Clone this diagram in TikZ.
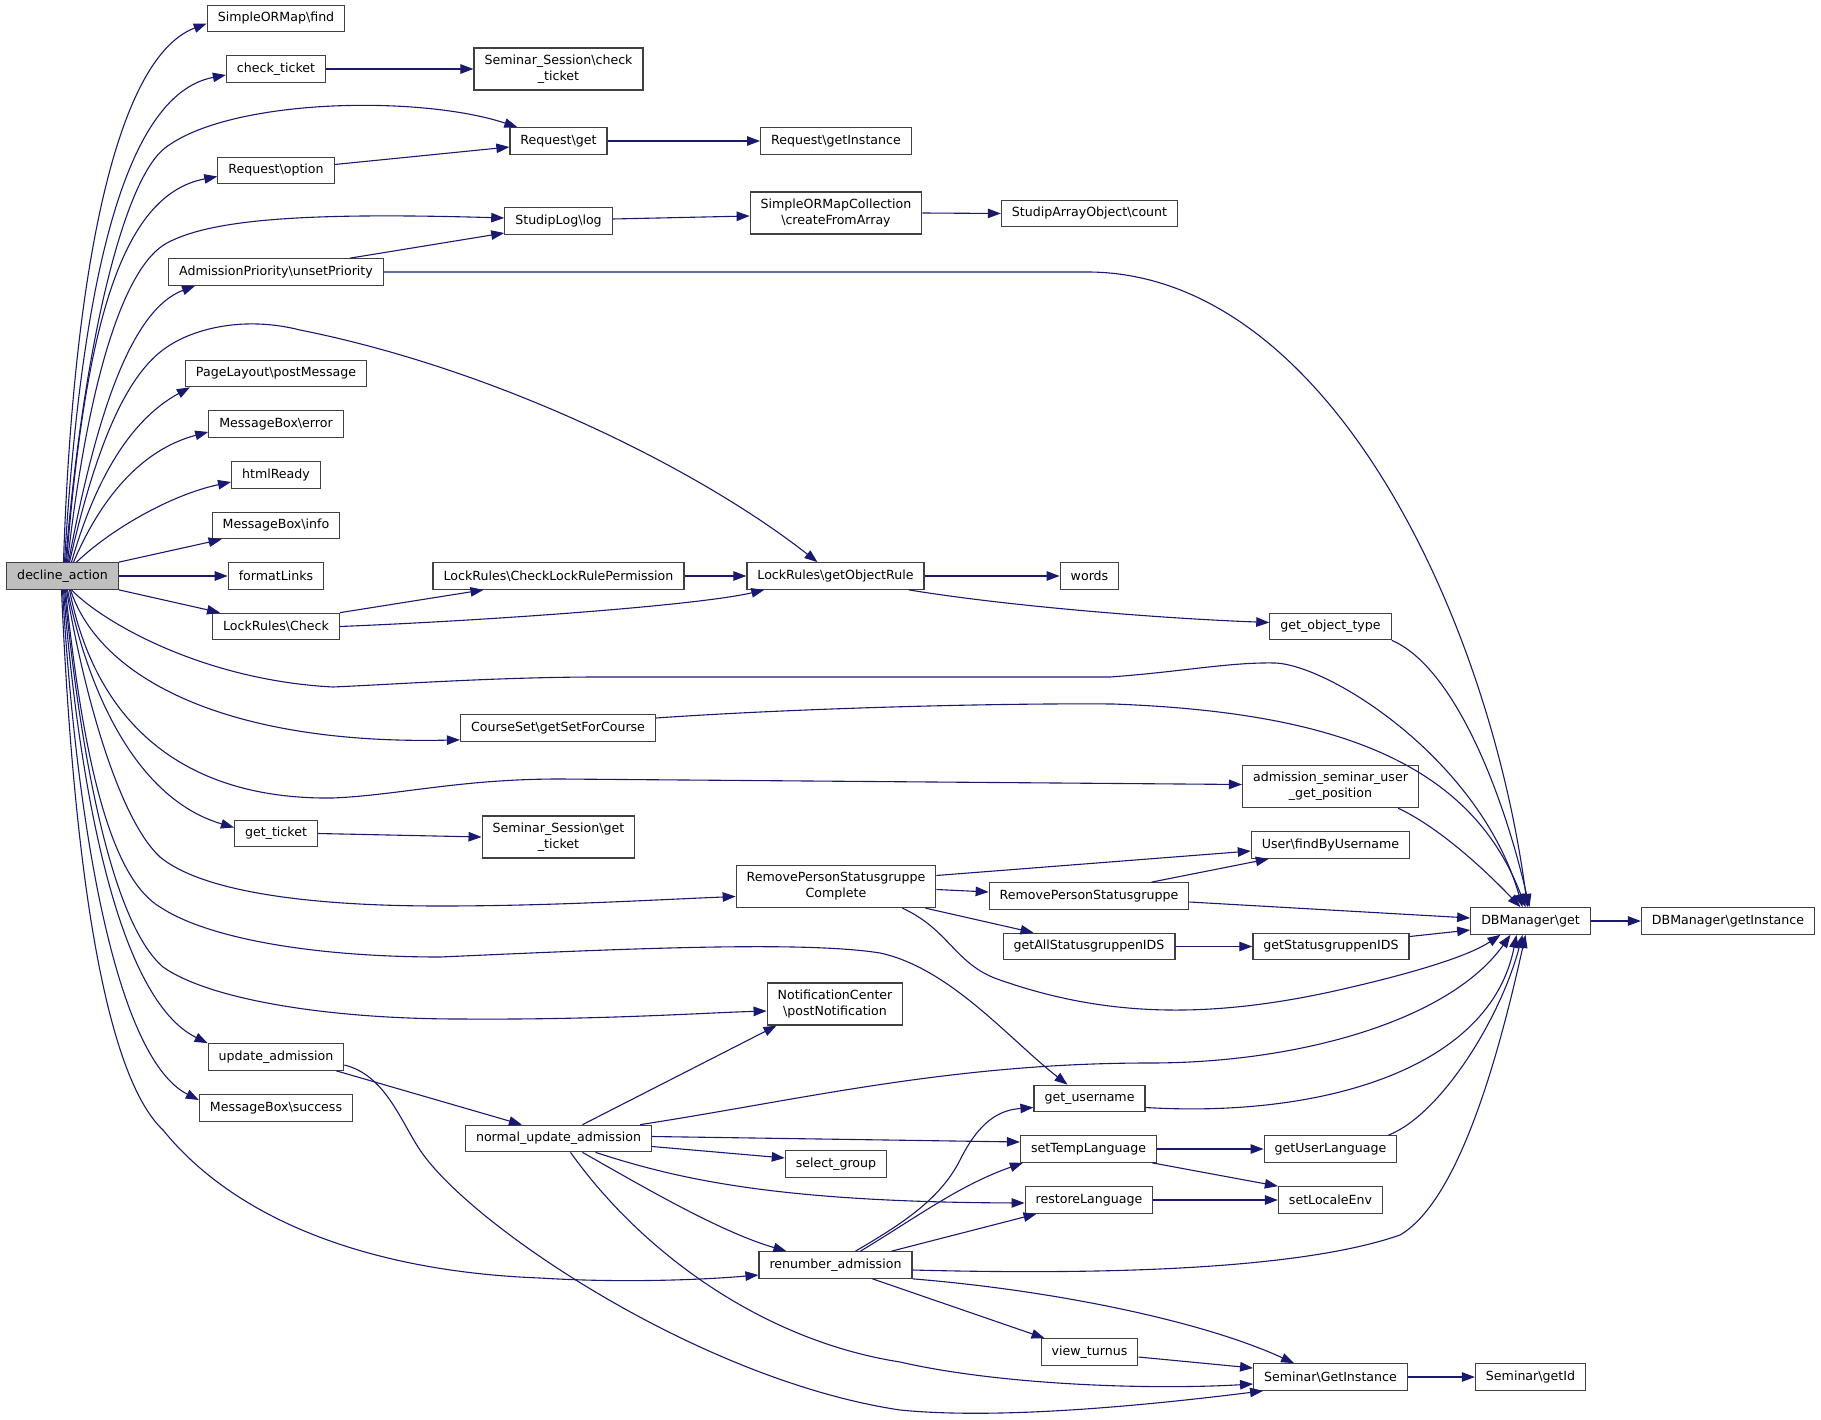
\documentclass[tikz,border=0pt]{standalone}
\usepackage{fontspec}
\newfontfamily\dxfont{DejaVu Sans}
\usetikzlibrary{arrows.meta}
\definecolor{edgeblue}{RGB}{25,25,112}
\definecolor{boxline}{RGB}{64,64,64}
\definecolor{rootfill}{RGB}{191,191,191}
\tikzset{
  fn/.style={draw=boxline, line width=1.2pt, fill=white, rectangle, minimum height=26.5pt,
    inner xsep=10.5pt, inner ysep=2pt, align=center, font=\dxfont\fontsize{12.6}{16}\selectfont},
  fntwo/.style={fn, minimum height=42pt},
  root/.style={fn, fill=rootfill},
  call/.style={edgeblue, line width=1.1pt, -{Triangle[length=13pt,width=9.5pt]}},
}

\begin{document}
\begin{tikzpicture}[x=1pt,y=-1pt]
\newcommand{\nsep}{\textbackslash}

\fill[white] (0,0) rectangle (1821,1420);
\useasboundingbox (0,0) rectangle (1821,1420);

\node[root] (da) at (62.5,576) {decline\_action};

\node[fn] (find) at (276,18.5) {SimpleORMap\nsep find};
\node[fn] (chkt) at (276,69) {check\_ticket};
\node[fn] (ropt) at (276,170.5) {Request\nsep option};
\node[fn] (unset) at (276,272) {AdmissionPriority\nsep unsetPriority};
\node[fn] (pmsg) at (276,373.5) {PageLayout\nsep postMessage};
\node[fn] (merr) at (276,424) {MessageBox\nsep error};
\node[fn] (html) at (276,475) {htmlReady};
\node[fn] (minfo) at (276,525.5) {MessageBox\nsep info};
\node[fn] (flinks) at (276,576) {formatLinks};
\node[fn] (lrchk) at (276,626.5) {LockRules\nsep Check};
\node[fn] (gtick) at (276,833.5) {get\_ticket};
\node[fn] (upd) at (276,1057) {update\_admission};
\node[fn] (succ) at (276,1108) {MessageBox\nsep success};

\node[fntwo] (sschk) at (558.5,69) {Seminar\_Session\nsep check\\\_ticket};
\node[fn] (rget) at (558.5,141) {Request\nsep get};
\node[fn] (slog) at (558.5,221) {StudipLog\nsep log};
\node[fn] (lrperm) at (558.5,576) {LockRules\nsep CheckLockRulePermission};
\node[fn] (cssfc) at (558,728) {CourseSet\nsep getSetForCourse};
\node[fntwo] (ssgt) at (558.5,837) {Seminar\_Session\nsep get\\\_ticket};
\node[fn] (nua) at (558.5,1138.5) {normal\_update\_admission};

\node[fn] (rinst) at (836,141) {Request\nsep getInstance};
\node[fntwo] (cfa) at (836,213) {SimpleORMapCollection\\\nsep createFromArray};
\node[fn] (gor) at (835.5,576) {LockRules\nsep getObjectRule};
\node[fntwo] (rpsc) at (836,886.5) {RemovePersonStatusgruppe\\Complete};
\node[fntwo] (nc) at (835,1004) {NotificationCenter\\\nsep postNotification};
\node[fn] (sgrp) at (836,1164) {select\_group};
\node[fn] (renum) at (835.5,1265) {renumber\_admission};

\node[fn] (cnt) at (1089.5,213.5) {StudipArrayObject\nsep count};
\node[fn] (words) at (1089.5,576) {words};
\node[fn] (rps) at (1089,896) {RemovePersonStatusgruppe};
\node[fn] (gasi) at (1089,946.5) {getAllStatusgruppenIDS};
\node[fn] (gun) at (1089.5,1098.5) {get\_username};
\node[fn] (stl) at (1088.5,1149) {setTempLanguage};
\node[fn] (rlang) at (1089,1200) {restoreLanguage};
\node[fn] (vturn) at (1089.5,1352) {view\_turnus};

\node[fn] (got) at (1330.5,626.5) {get\_object\_type};
\node[fntwo] (asugp) at (1330.5,786.5) {admission\_seminar\_user\\\_get\_position};
\node[fn] (ufu) at (1330.5,845) {User\nsep findByUsername};
\node[fn] (gsi) at (1331,946.5) {getStatusgruppenIDS};
\node[fn] (gul) at (1330.5,1149) {getUserLanguage};
\node[fn] (sle) at (1330.5,1200) {setLocaleEnv};
\node[fn] (sgi) at (1330.5,1377) {Seminar\nsep GetInstance};

\node[fn] (dbget) at (1530.5,921) {DBManager\nsep get};
\node[fn] (dbinst) at (1728,921) {DBManager\nsep getInstance};
\node[fn] (sgid) at (1530.5,1377) {Seminar\nsep getId};

\draw[call] ([xshift=1pt]da.north) .. controls (72,300) and (110,60) .. ([yshift=-5pt]find.west);
\draw[call] ([xshift=2pt]da.north) .. controls (80,300) and (120,95) .. ([yshift=-6pt]chkt.west);
\draw[call] ([xshift=3pt]da.north) .. controls (85,330) and (126,178) .. (165,148) .. controls (230,98) and (420,95) .. ([xshift=8pt]rget.north west);
\draw[call] ([xshift=4pt]da.north) .. controls (85,330) and (120,195) .. ([yshift=-6pt]ropt.west);
\draw[call] ([xshift=5pt]da.north) .. controls (88,380) and (124,266) .. (167,243) .. controls (210,220) and (300,212) .. ([yshift=3pt]slog.west);
\draw[call] ([xshift=6pt]da.north) .. controls (95,420) and (130,310) .. ([xshift=27pt]unset.south west);
\draw[call] ([xshift=7pt]da.north) .. controls (95,450) and (125,375) .. (167,347) .. controls (195,328) and (245,316) .. (300,330) .. controls (500,370) and (700,470) .. ([xshift=-18pt]gor.north);
\draw[call] ([xshift=9pt]da.north) .. controls (95,480) and (130,420) .. ([xshift=5pt]pmsg.south west);
\draw[call] ([xshift=11pt]da.north) .. controls (100,500) and (140,450) .. ([yshift=-8pt]merr.west);
\draw[call] ([xshift=14pt]da.north) .. controls (110,530) and (170,495) .. ([yshift=-7pt]html.west);
\draw[call] (da.north east) -- ([xshift=10pt]minfo.south west);
\draw[call] (da.east) -- (flinks.west);
\draw[call] (da.south east) -- ([xshift=8pt]lrchk.north west);

\draw[call] ([xshift=9pt]da.south) .. controls (100,620) and (200,680) .. (333,687) .. controls (400,684) and (500,677) .. (600,677) -- (1110,677) .. controls (1180,672) and (1230,662) .. (1275,663) .. controls (1330,665) and (1480,760) .. ([xshift=-8pt]dbget.north);
\draw[call] ([xshift=8pt]da.south) .. controls (100,680) and (230,745) .. ([yshift=2pt]cssfc.south west);
\draw[call] ([xshift=7pt]da.south) .. controls (95,720) and (180,800) .. (333,798) .. controls (400,795) and (460,779) .. (560,779) -- ([yshift=2pt]asugp.west);
\draw[call] ([xshift=5pt]da.south) .. controls (90,700) and (140,800) .. ([yshift=6pt]gtick.west);
\draw[call] ([xshift=4pt]da.south) .. controls (85,700) and (120,820) .. (160,857) .. controls (200,890) and (300,906) .. (440,906) .. controls (550,906) and (650,900) .. ([yshift=-10pt]rpsc.west);
\draw[call] ([xshift=3pt]da.south) .. controls (85,780) and (115,880) .. (160,907) .. controls (210,940) and (320,957) .. (440,957) .. controls (600,950) and (800,940) .. (880,953) .. controls (950,968) and (1010,1040) .. ([xshift=-22pt]gun.north);
\draw[call] ([xshift=2pt]da.south) .. controls (85,800) and (120,930) .. (163,967) .. controls (210,1000) and (330,1019) .. (460,1019) .. controls (600,1020) and (700,1013) .. ([yshift=-7pt]nc.west);
\draw[call] ([xshift=1pt]da.south) .. controls (80,800) and (120,1000) .. (upd.north west);
\draw[call] (da.south) .. controls (78,850) and (120,1060) .. ([yshift=8pt]succ.west);
\draw[call] ([xshift=-1pt]da.south) .. controls (75,900) and (110,1080) .. (163,1130) .. controls (240,1225) and (380,1272) .. (540,1278) .. controls (620,1283) and (700,1280) .. ([yshift=-10pt]renum.west);

\draw[call] (chkt.east) -- (sschk.west);
\draw[call] ([yshift=6pt]ropt.east) -- ([yshift=-6pt]rget.west);
\draw[call] (rget.east) -- (rinst.west);
\draw[call] ([yshift=2pt]slog.east) -- ([yshift=-3pt]cfa.west);
\draw[call] (cfa.east) -- (cnt.west);
\draw[call] ([xshift=-34pt]unset.north east) -- ([yshift=-12pt]slog.west);
\draw[call] (unset.east) -- (1090,272) .. controls (1330,275) and (1490,620) .. ([xshift=-3pt]dbget.north);
\draw[call] (lrchk.north east) -- ([xshift=51pt]lrperm.south west);
\draw[call] (lrchk.east) .. controls (500,620) and (700,605) .. ([xshift=18pt]gor.south west);
\draw[call] (lrperm.east) -- (gor.west);
\draw[call] (gor.east) -- (words.west);
\draw[call] ([xshift=-16pt]gor.south east) .. controls (1000,605) and (1150,618) .. ([yshift=4pt]got.west);
\draw[call] (got.south east) .. controls (1450,665) and (1500,780) .. ([xshift=-1pt]dbget.north);
\draw[call] ([yshift=10pt]cssfc.east) .. controls (800,708) and (1000,703) .. (1113,704) .. controls (1330,712) and (1470,760) .. ([xshift=-5pt]dbget.north);
\draw[call] ([xshift=-21pt]asugp.south east) .. controls (1440,828) and (1485,870) .. ([xshift=-10pt]dbget.north);
\draw[call] (gtick.east) -- (ssgt.west);
\draw[call] ([yshift=11pt]rpsc.east) -- ([yshift=-6pt]ufu.west);
\draw[call] ([yshift=-3pt]rpsc.east) -- ([yshift=4pt]rps.west);
\draw[call] ([xshift=-11pt]rpsc.south east) -- ([xshift=31pt]gasi.north west);
\draw[call] ([xshift=-34pt]rpsc.south east) .. controls (950,930) and (955,965) .. (1000,980) .. controls (1100,1015) and (1200,1020) .. (1330,992) .. controls (1420,972) and (1470,955) .. ([xshift=-30pt]dbget.south);
\draw[call] ([xshift=-38pt]rps.north east) -- ([xshift=18pt]ufu.south west);
\draw[call] ([yshift=-6pt]rps.east) -- ([yshift=3pt]dbget.west);
\draw[call] (gasi.east) -- (gsi.west);
\draw[call] ([yshift=10pt]gsi.east) -- ([yshift=-9pt]dbget.west);
\draw[call] (dbget.east) -- (dbinst.west);
\draw[call] ([xshift=-8pt]upd.south east) -- ([xshift=57pt]nua.north west);
\draw[call] ([yshift=-8pt]upd.east) .. controls (385,1075) and (400,1120) .. (420,1150) .. controls (470,1225) and (700,1380) .. (900,1410) .. controls (1000,1420) and (1150,1405) .. ([xshift=10pt]sgi.south west);
\draw[call] ([xshift=24pt]nua.north) -- ([xshift=10pt]nc.south west);
\draw[call] ([xshift=-12pt]nua.north east) .. controls (800,1100) and (950,1063) .. (1150,1063) .. controls (1300,1063) and (1450,1020) .. ([xshift=-20pt]dbget.south);
\draw[call] ([yshift=2pt]nua.east) -- ([yshift=7pt]stl.west);
\draw[call] ([yshift=-8pt]nua.east) -- ([yshift=6pt]sgrp.west);
\draw[call] ([xshift=37pt]nua.south) .. controls (680,1180) and (780,1202) .. ([yshift=-3pt]rlang.west);
\draw[call] ([xshift=24pt]nua.south) .. controls (640,1185) and (720,1232) .. ([xshift=28pt]renum.north west);
\draw[call] ([xshift=12pt]nua.south) .. controls (640,1250) and (760,1340) .. (900,1362) .. controls (1000,1385) and (1150,1390) .. ([yshift=-7pt]sgi.west);
\draw[call] ([yshift=-9pt]gun.east) .. controls (1320,1118) and (1490,1070) .. ([xshift=-14pt]dbget.south);
\draw[call] (stl.east) -- (gul.west);
\draw[call] ([xshift=-5pt]stl.south east) -- (sle.north west);
\draw[call] ([xshift=-9pt]gul.north east) .. controls (1440,1115) and (1500,1020) .. ([xshift=-8pt]dbget.south);
\draw[call] (rlang.east) -- (sle.west);
\draw[call] ([xshift=20pt]renum.north) .. controls (900,1225) and (940,1200) .. (960,1160) .. controls (980,1120) and (1000,1110) .. ([yshift=-9pt]gun.west);
\draw[call] ([xshift=25pt]renum.north) .. controls (920,1215) and (960,1185) .. ([xshift=3pt]stl.south west);
\draw[call] ([xshift=-21pt]renum.north east) -- ([xshift=12pt]rlang.south west);
\draw[call] ([yshift=-5pt]renum.east) .. controls (1100,1275) and (1300,1270) .. (1400,1235) .. controls (1460,1200) and (1500,1050) .. ([xshift=-5pt]dbget.south);
\draw[call] (renum.south east) .. controls (1050,1290) and (1200,1320) .. ([xshift=41pt]sgi.north west);
\draw[call] ([xshift=37pt]renum.south) -- ([xshift=4pt]vturn.north west);
\draw[call] ([yshift=-5pt]vturn.east) -- ([yshift=9pt]sgi.west);
\draw[call] (sgi.east) -- (sgid.west);
\end{tikzpicture}
\end{document}
